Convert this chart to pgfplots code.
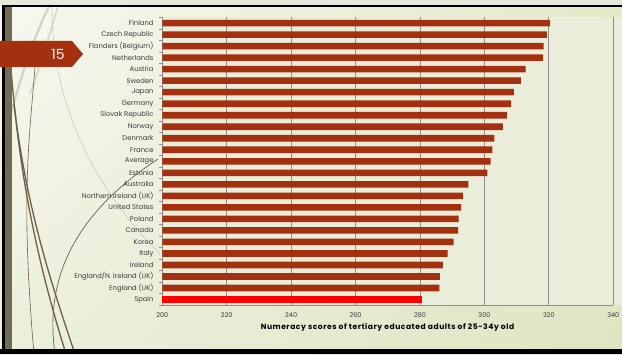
\documentclass[border=0pt]{standalone}
\usepackage{pgfplots}
\pgfplotsset{compat=1.18}
\usetikzlibrary{shadings}
\usepackage{fontspec}
\setmainfont{Poppins}
\newfontfamily\widefont[LetterSpace=7]{Poppins}

\definecolor{barred}{HTML}{A5300F}
\definecolor{spainred}{HTML}{FF0000}
\definecolor{plotfill}{HTML}{E9EDDA}
\definecolor{gridgray}{HTML}{8E8E8E}
\definecolor{olive}{HTML}{716A55}
\definecolor{curvebrown}{HTML}{6F6045}
\definecolor{curvelight}{HTML}{C8CBB6}
\definecolor{labelgray}{HTML}{3A3A3A}
\definecolor{bgUL}{HTML}{F7F8F0}
\definecolor{bgUR}{HTML}{E3E8CA}
\definecolor{bgLL}{HTML}{ECEFDC}
\definecolor{bgLR}{HTML}{DFE5C2}
\definecolor{topstrip}{HTML}{E6E8DE}

% Numeracy scores, 25-34 year olds with tertiary education (category 0 = bottom)
\pgfplotstableread{
y score
1  286.0
2  286.2
3  287.1
4  288.6
5  290.4
6  291.8
7  292.0
8  292.8
9  293.4
10 295.0
11 300.9
12 301.9
13 302.5
14 303.1
15 305.7
16 307.0
17 308.3
18 309.1
19 311.3
20 312.8
21 318.2
22 318.4
23 319.4
24 320.4
}\scores
\pgfplotstableread{
y score
0 280.6
}\spain

\begin{document}
\begin{tikzpicture}[x=1pt,y=1pt]
\useasboundingbox (0,0) rectangle (622,354);
% slide background
\shade[upper left=bgUL, upper right=bgUR, lower left=bgLL, lower right=bgLR]
  (0,0) rectangle (622,354);
\fill[topstrip] (0,349) rectangle (622,354);

% decorative curves
\begin{scope}
\clip (4,5) rectangle (160,346);
\draw[curvelight, line width=2.2pt, opacity=0.8] (-2,190) .. controls (15,260) and (30,310) .. (52,354);
\draw[curvelight, line width=1.6pt, opacity=0.7] (30,260) .. controls (45,300) and (52,330) .. (60,354);
\draw[curvelight, line width=0.6pt] (160,100) .. controls (95,165) and (50,250) .. (52,354);
\draw[curvebrown, line width=1.3pt] (10,300) .. controls (18,180) and (38,90) .. (66,0);
\draw[curvebrown, line width=1.3pt] (14,250) .. controls (26,150) and (48,80) .. (75,0);
\draw[curvebrown, line width=0.6pt] (35,287) .. controls (30,220) and (20,160) .. (34,0);
\draw[curvebrown, line width=0.7pt] (158,195) .. controls (90,150) and (42,90) .. (55,0);
\end{scope}

% slide frame
\fill[black] (2,0) rectangle (4.5,349);
\fill[olive] (4.5,5) rectangle (12,346.5);
\fill[black] (2,346.5) rectangle (622,349);
\fill[black] (0,0) rectangle (622,5);

% plot area
\fill[plotfill] (162.3,48.7) rectangle (622,336.7);

% slide number badge
\fill[barred] (0,313) -- (72,313) -- (83,300) -- (72,287) -- (0,287) -- cycle;
\node[text=white, font=\fontsize{14}{16}\selectfont] at (58,300) {15};

\begin{axis}[
  at={(162.3pt,48.7pt)}, anchor=south west,
  scale only axis, width=451pt, height=288pt,
  xbar, bar width=6.6pt,
  xmin=200, xmax=340, ymin=-0.5, ymax=24.5,
  axis x line*=bottom, axis y line*=left,
  axis line style={gridgray, line width=0.8pt},
  xtick={200,220,...,340},
  xmajorgrids, grid style={gridgray, line width=0.8pt},
  major x tick style={draw=none},
  ytick={0,...,24},
  major y tick style={draw=none},
  minor ytick={-0.5,0.5,...,24.5},
  minor y tick style={gridgray, line width=0.6pt},
  minor tick length=3pt,
  tick align=outside,
  yticklabels={Spain, England (UK), England/N. Ireland (UK), Ireland, Italy, Korea, Canada, Poland, United States, Northern Ireland (UK), Australia, Estonia, Average, France, Denmark, Norway, Slovak Republic, Germany, Japan, Sweden, Austria, Netherlands, Flanders (Belgium), Czech Republic, Finland},
  yticklabel style={font=\fontsize{6.8}{8}\selectfont, text=labelgray, xshift=-1pt},
  xticklabel style={font=\fontsize{6.5}{8}\selectfont, text=labelgray},
  /pgf/number format/assume math mode=true,
  xlabel={\textbf{Numeracy scores of tertiary educated adults of 25-34y old}},
  xlabel style={font=\widefont\fontsize{7.6}{8}\selectfont, text=black, yshift=1pt},
  clip=false,
]
\addplot[fill=barred, draw=none, bar shift=0pt] table[x=score, y=y] {\scores};
\addplot[fill=spainred, draw=none, bar shift=0pt] table[x=score, y=y] {\spain};
\end{axis}
\end{tikzpicture}
\end{document}
